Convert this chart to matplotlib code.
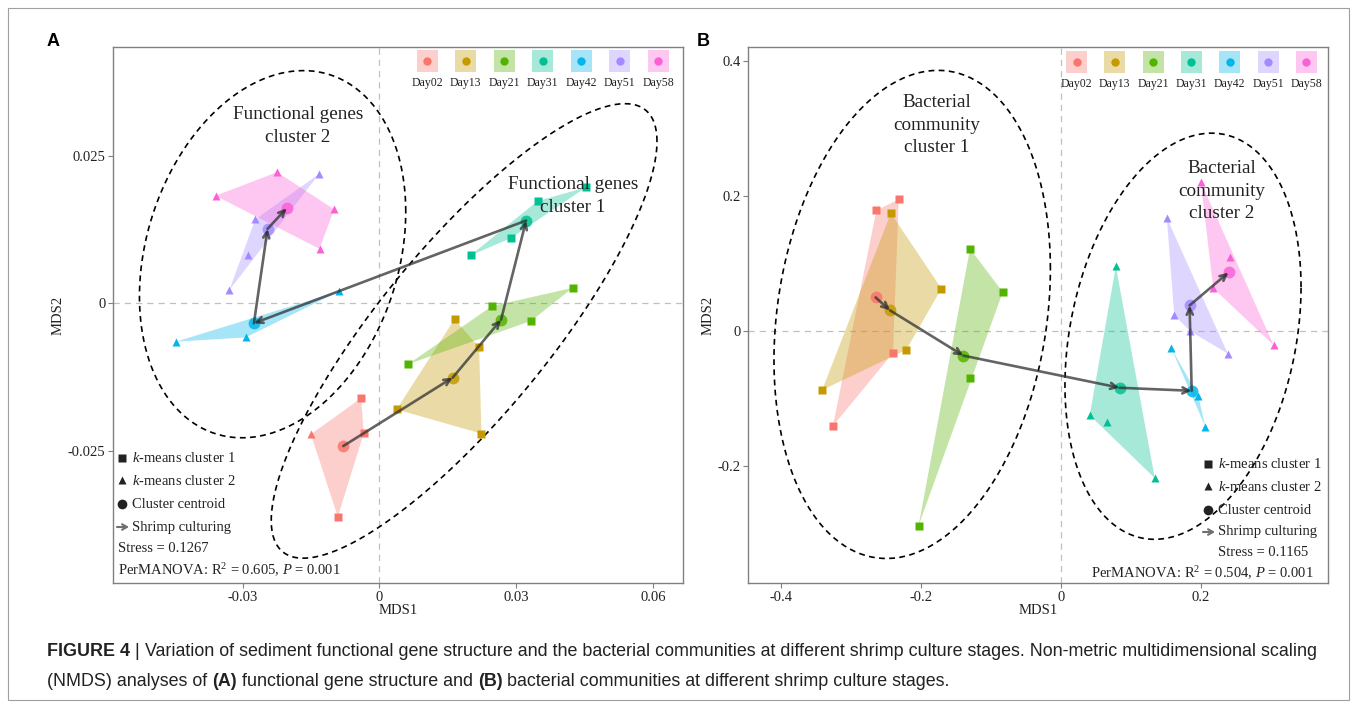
#!/usr/bin/env python3
"""
NMDS of functional genes (A) and bacterial communities (B) over shrimp culture days
"""

import numpy as np
import matplotlib
matplotlib.use("Agg")
import matplotlib.pyplot as plt
from matplotlib.patches import Polygon, Rectangle

plt.rcParams['font.family'] = ['Liberation Serif', 'DejaVu Serif']
plt.rcParams['mathtext.fontset'] = 'custom'
plt.rcParams['mathtext.rm'] = 'Liberation Serif'
plt.rcParams['mathtext.it'] = 'Liberation Serif:italic'
plt.rcParams['axes.unicode_minus'] = False

days = ['Day02', 'Day13', 'Day21', 'Day31', 'Day42', 'Day51', 'Day58']
day_colors = ['#F8766D', '#C49A00', '#53B400', '#00C094', '#00B6EB', '#A58AFF', '#FB61D7']

# ---- panel A: functional genes (one list per day), k-means 1 = square, 2 = triangle
a_mds1 = [[-0.0040, -0.0034, -0.0091, -0.0150],
          [0.0165, 0.0219, 0.0038, 0.0224],
          [0.0424, 0.0247, 0.0333, 0.0064],
          [0.0200, 0.0288, 0.0347, 0.0453],
          [-0.0445, -0.0293, -0.0088],
          [-0.0132, -0.0272, -0.0287, -0.0329],
          [-0.0359, -0.0224, -0.0099, -0.0131]]
a_mds2 = [[-0.0161, -0.0220, -0.0362, -0.0222],
          [-0.0027, -0.0075, -0.0180, -0.0221],
          [0.0026, -0.0005, -0.0030, -0.0103],
          [0.0081, 0.0110, 0.0173, 0.0196],
          [-0.0065, -0.0058, 0.0020],
          [0.0219, 0.0142, 0.0081, 0.0022],
          [0.0182, 0.0222, 0.0159, 0.0092]]
a_kmeans = [[1, 1, 1, 2], [1, 1, 1, 1], [1, 1, 1, 1], [1, 1, 1, 1],
            [2, 2, 2], [2, 2, 2, 2], [2, 2, 2, 2]]
a_cent1 = [-0.0079, 0.0161, 0.0267, 0.0322, -0.0275, -0.0245, -0.0203]
a_cent2 = [-0.0242, -0.0126, -0.0028, 0.0140, -0.0034, 0.0126, 0.0161]
# ellipses: centre x, centre y, half width, half height, correlation
a_ellipses = [(0.0186, -0.0047, 0.0423, 0.0385, 0.834),
              (-0.0234, 0.0083, 0.0292, 0.0311, 0.231)]
a_cluster_labels = ['Functional genes\ncluster 1', 'Functional genes\ncluster 2']
a_stress = '0.1267'
a_r2, a_p = '0.605', '0.001'

# ---- panel B: bacterial communities
b_mds1 = [[-0.2633, -0.2314, -0.2396, -0.3254],
          [-0.2426, -0.1704, -0.2207, -0.3408],
          [-0.1296, -0.0828, -0.1296, -0.2030],
          [0.0787, 0.0414, 0.0657, 0.1343],
          [0.1580, 0.1964, 0.2065],
          [0.1515, 0.1621, 0.1840, 0.2385],
          [0.2000, 0.2420, 0.2178, 0.3041]]
b_mds2 = [[0.1781, 0.1945, -0.0329, -0.1412],
          [0.1741, 0.0624, -0.0284, -0.0879],
          [0.1213, 0.0573, -0.0697, -0.2886],
          [0.0953, -0.1253, -0.1355, -0.2183],
          [-0.0261, -0.0964, -0.1423],
          [0.1673, 0.0232, 0.0000, -0.0340],
          [0.2206, 0.1094, 0.0629, -0.0215]]
b_kmeans = [[1, 1, 1, 1], [1, 1, 1, 1], [1, 1, 1, 1], [2, 2, 2, 2],
            [2, 2, 2], [2, 2, 2, 2], [2, 2, 2, 2]]
b_cent1 = [-0.2645, -0.2438, -0.1391, 0.0840, 0.1870, 0.1840, 0.2396]
b_cent2 = [0.0493, 0.0301, -0.0369, -0.0845, -0.0890, 0.0374, 0.0862]
b_ellipses = [(-0.2122, 0.0241, 0.1974, 0.3615, 0.187),
              (0.1746, -0.0082, 0.1686, 0.3008, 0.242)]
b_cluster_labels = ['Bacterial\ncommunity\ncluster 1', 'Bacterial\ncommunity\ncluster 2']
b_stress = '0.1165'
b_r2, b_p = '0.504', '0.001'

caption_line1 = [('FIGURE 4', 'bold'), (' | ', 'normal'),
                 ('Variation of sediment functional gene structure and the bacterial '
                  'communities at different shrimp culture stages. Non-metric '
                  'multidimensional scaling', 'normal')]
caption_line2 = [('(NMDS) analyses of ', 'normal'), ('(A)', 'bold'),
                 (' functional gene structure and ', 'normal'), ('(B)', 'bold'),
                 (' bacterial communities at different shrimp culture stages.', 'normal')]

W, H = 1357, 708
A_BOX = (113, 47, 683, 583)     # left, top, right, bottom (pixels)
B_BOX = (748, 47, 1328, 583)
TXT = '#222222'
GRAY = '#808080'


def axes_rect(box):
    l, t, r, b = box
    return [l / W, 1 - b / H, (r - l) / W, (b - t) / H]


def frac(box, px, py):
    l, t, r, b = box
    return (px - l) / (r - l), (b - py) / (b - t)


def hull(xs, ys):
    pts = sorted(set(zip(xs, ys)))
    if len(pts) < 3:
        return pts

    def cross(o, a, b):
        return (a[0] - o[0]) * (b[1] - o[1]) - (a[1] - o[1]) * (b[0] - o[0])
    lower, upper = [], []
    for p in pts:
        while len(lower) >= 2 and cross(lower[-2], lower[-1], p) <= 0:
            lower.pop()
        lower.append(p)
    for p in reversed(pts):
        while len(upper) >= 2 and cross(upper[-2], upper[-1], p) <= 0:
            upper.pop()
        upper.append(p)
    return lower[:-1] + upper[:-1]


def draw_panel(ax, mds1, mds2, kmeans, cent1, cent2, ellipses):
    ax.axhline(0, color='#c0c0c0', lw=0.9, ls=(0, (5, 4)), zorder=0)
    ax.axvline(0, color='#c0c0c0', lw=0.9, ls=(0, (5, 4)), zorder=0)

    t = np.linspace(0, 2 * np.pi, 300)
    for cx, cy, hx, hy, rho in ellipses:
        ex = cx + hx * np.cos(t)
        ey = cy + hy * (rho * np.cos(t) + np.sqrt(1 - rho ** 2) * np.sin(t))
        ax.plot(ex, ey, color='black', lw=1.2, ls=(0, (3.5, 2.6)), zorder=1)

    for i, col in enumerate(day_colors):
        ax.add_patch(Polygon(hull(mds1[i], mds2[i]), closed=True,
                             facecolor=col, alpha=0.35, edgecolor='none', zorder=2))
    for i, col in enumerate(day_colors):
        for x, y, k in zip(mds1[i], mds2[i], kmeans[i]):
            if k == 1:
                ax.plot(x, y, marker='s', ms=5.5, color=col, mec='none', zorder=3)
            else:
                ax.plot(x, y, marker='^', ms=6.3, color=col, mec='none', zorder=3)
    for i, col in enumerate(day_colors):
        ax.plot(cent1[i], cent2[i], marker='o', ms=8.5, color=col, alpha=0.85,
                mec='none', zorder=4)
    for i in range(len(cent1) - 1):
        ax.annotate('', xy=(cent1[i + 1], cent2[i + 1]), xytext=(cent1[i], cent2[i]),
                    arrowprops=dict(arrowstyle='->,head_length=0.45,head_width=0.22',
                                    color='#303030', alpha=0.75, lw=1.9,
                                    shrinkA=0, shrinkB=0), zorder=5)


def style_axes(ax, xlim, ylim, xticks, yticks):
    ax.set_xlim(xlim)
    ax.set_ylim(ylim)
    ax.set_xticks(xticks)
    ax.set_xticklabels(['0' if v == 0 else f'{v:g}' for v in xticks])
    ax.set_yticks(yticks)
    ax.set_yticklabels(['0' if v == 0 else f'{v:g}' for v in yticks])
    for s in ax.spines.values():
        s.set_color(GRAY)
        s.set_linewidth(1.0)
    ax.tick_params(colors=GRAY, labelcolor=TXT, labelsize=10.5, length=3.5, width=0.8, pad=2)
    ax.set_xlabel('MDS1', fontsize=10.5, color=TXT, labelpad=0)
    ax.set_ylabel('MDS2', fontsize=10.5, color=TXT, labelpad=2)


def day_legend(ax, box, x0, step, y_key, y_lab):
    l, t, r, b = box
    w, h = 21 / (r - l), 21 / (b - t)
    for i, (day, col) in enumerate(zip(days, day_colors)):
        fx, fy = frac(box, x0 + i * step, y_key)
        ax.add_patch(Rectangle((fx - w / 2, fy - h / 2), w, h, transform=ax.transAxes,
                               facecolor=col, alpha=0.35, edgecolor='none', zorder=6))
        ax.plot(fx, fy, marker='o', ms=6, color=col, mec='none',
                transform=ax.transAxes, zorder=7, clip_on=False)
        fx, fy = frac(box, x0 + i * step, y_lab)
        ax.text(fx, fy, day, transform=ax.transAxes, ha='center', va='center',
                fontsize=8.5, color=TXT, zorder=7)


def info_block(ax, box, mx, tx, ys, stress, r2, p, perm_x, perm_ha):
    fs = 10.5
    kw = dict(transform=ax.transAxes, clip_on=False, zorder=7)
    fx, fy = frac(box, mx, ys[0])
    ax.plot(fx, fy, marker='s', ms=6, color='#222222', mec='none', **kw)
    fx, fy = frac(box, mx, ys[1] - 1)
    ax.plot(fx, fy, marker='^', ms=6, color='#222222', mec='none', **kw)
    fx, fy = frac(box, mx, ys[2])
    ax.plot(fx, fy, marker='o', ms=7, color='#222222', mec='none', **kw)
    a0 = frac(box, mx - 5, ys[3])
    a1 = frac(box, mx + 7, ys[3])
    ax.annotate('', xy=a1, xytext=a0, xycoords='axes fraction',
                arrowprops=dict(arrowstyle='->,head_length=0.35,head_width=0.2',
                                color='#707070', lw=1.5, shrinkA=0, shrinkB=0))
    lines = [r'$\it{k}$-means cluster 1', r'$\it{k}$-means cluster 2',
             'Cluster centroid', 'Shrimp culturing']
    for y, s in zip(ys[:4], lines):
        fx, fy = frac(box, tx, y)
        ax.text(fx, fy, s, ha='left', va='center', fontsize=fs, color=TXT,
                transform=ax.transAxes, zorder=7)
    fx, fy = frac(box, tx if perm_ha == 'right' else mx - 4, ys[4])
    ax.text(fx, fy, f'Stress = {stress}', ha='left', va='center', fontsize=fs,
            color=TXT, transform=ax.transAxes, zorder=7)
    fx, fy = frac(box, perm_x, ys[5])
    ax.text(fx, fy, f'PerMANOVA: R$^2$ = {r2}, $P$ = {p}', ha=perm_ha, va='center',
            fontsize=fs, color=TXT, transform=ax.transAxes, zorder=7)


def cluster_labels(ax, box, labels, positions):
    for s, (px, py) in zip(labels, positions):
        fx, fy = frac(box, px, py)
        ax.text(fx, fy, s, transform=ax.transAxes, ha='center', va='center',
                fontsize=13.8, color=TXT, linespacing=1.45, zorder=7)


def caption(fig, lines, x0, ys, fontsize):
    renderer = fig.canvas.get_renderer()
    fam = ['Liberation Sans', 'DejaVu Sans']
    for pieces, y in zip(lines, ys):
        x = x0
        for s, weight in pieces:
            t = fig.text(x / W, 1 - y / H, s, ha='left', va='center', fontsize=fontsize,
                         fontweight=weight, family=fam, color='#222222')
            x += t.get_window_extent(renderer).width


def main():
    fig = plt.figure(figsize=(W / 100, H / 100), dpi=100)
    fig.patches.append(Rectangle((8 / W, 8 / H), 1341 / W, 692 / H, transform=fig.transFigure,
                                 fill=False, edgecolor='#a0a0a0', lw=0.8))

    ax_a = fig.add_axes(axes_rect(A_BOX))
    draw_panel(ax_a, a_mds1, a_mds2, a_kmeans, a_cent1, a_cent2, a_ellipses)
    style_axes(ax_a, (-0.0584, 0.0666), (-0.0474, 0.0434),
               [-0.03, 0, 0.03, 0.06], [-0.025, 0, 0.025])
    day_legend(ax_a, A_BOX, 427, 38.5, 61, 83)
    cluster_labels(ax_a, A_BOX, a_cluster_labels, [(573, 196), (298, 126)])
    info_block(ax_a, A_BOX, 122, 132, [458, 481, 504, 527, 549, 570],
               a_stress, a_r2, a_p, 118, 'left')

    ax_b = fig.add_axes(axes_rect(B_BOX))
    draw_panel(ax_b, b_mds1, b_mds2, b_kmeans, b_cent1, b_cent2, b_ellipses)
    style_axes(ax_b, (-0.4467, 0.3817), (-0.3737, 0.4202),
               [-0.4, -0.2, 0, 0.2], [-0.2, 0, 0.2, 0.4])
    day_legend(ax_b, B_BOX, 1076.5, 38.3, 62, 84)
    cluster_labels(ax_b, B_BOX, b_cluster_labels, [(937, 125), (1222, 191)])
    info_block(ax_b, B_BOX, 1208, 1218, [464, 487, 510, 532, 553, 573],
               b_stress, b_r2, b_p, 1314, 'right')

    fig.text(47 / W, 1 - 42 / H, 'A', fontsize=13, fontweight='bold',
             family=['Liberation Sans', 'DejaVu Sans'], ha='left', va='center')
    fig.text(697 / W, 1 - 42 / H, 'B', fontsize=13, fontweight='bold',
             family=['Liberation Sans', 'DejaVu Sans'], ha='left', va='center')

    caption(fig, [caption_line1, caption_line2], 47, [652, 682], 12.9)

    fig.savefig('out.png', dpi=100)


if __name__ == "__main__":
    main()
